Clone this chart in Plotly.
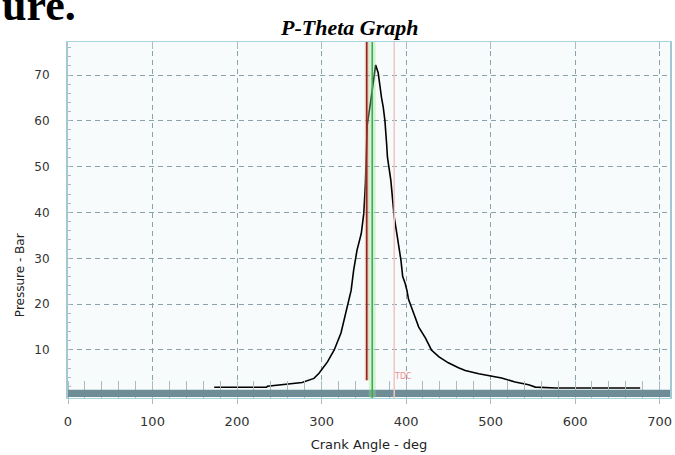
import plotly.graph_objects as go

# Cylinder pressure vs crank angle
crank_angle = [173, 235, 236, 258, 277, 291, 297, 307, 315, 323, 330, 335, 338, 342,
               347, 350, 352, 353, 354, 358, 361, 364, 367, 369, 371, 373, 375, 377,
               378, 382, 384, 386, 389, 392, 394, 396, 399, 401, 403, 409, 415, 423,
               430, 439, 450, 462, 470, 486, 501, 513, 529, 545, 553, 577, 677]
pressure = [1.85, 1.85, 2.1, 2.5, 2.9, 3.8, 4.9, 7.4, 10, 13.7, 19.4, 23, 27.4, 31.8,
            35.4, 39.8, 46.6, 53.6, 59, 64, 68, 72.2, 70.5, 67.3, 65, 63, 60, 55,
            52, 47, 43, 39, 35.5, 32, 29.5, 26, 24.5, 23, 21, 18, 15, 12.6,
            10, 8.5, 7.2, 6.1, 5.5, 4.8, 4.3, 3.9, 3.0, 2.4, 1.9, 1.7, 1.7]

# Reference angles (ignition, TDC, later marker)
ignition_angle = 353.5
tdc_angle = 360
marker_angle = 386

x_ticks = [0, 100, 200, 300, 400, 500, 600, 700]
y_ticks = [10, 20, 30, 40, 50, 60, 70]

X_MAX = 712.3
Y_MIN, Y_MAX = -0.48, 77.2

grid_color = "#8aa2aa"
axis_font = dict(family="DejaVu Sans", size=12, color="#333333")

fig = go.Figure()

fig.add_trace(go.Scatter(
    x=crank_angle, y=pressure, mode="lines",
    line=dict(color="black", width=1.6), showlegend=False, hoverinfo="skip",
))

# empty trace to host the top (inside-tick) axis
fig.add_trace(go.Scatter(x=[None], y=[None], xaxis="x2", showlegend=False))

shapes = [
    # thick baseline bar
    dict(type="rect", xref="x domain", x0=0, x1=1, yref="y", y0=-0.25, y1=1.3,
         fillcolor="#6f8d97", line=dict(width=0), layer="above"),
    # TDC line with soft halo
    dict(type="line", xref="x", x0=tdc_angle, x1=tdc_angle, yref="y domain", y0=0, y1=1,
         line=dict(color="rgba(150,225,150,0.35)", width=7)),
    dict(type="line", xref="x", x0=tdc_angle, x1=tdc_angle, yref="y domain", y0=0, y1=1,
         line=dict(color="#3cad4a", width=1.6)),
    # ignition line
    dict(type="line", xref="x", x0=ignition_angle, x1=ignition_angle, yref="y",
         y0=3.4, y1=Y_MAX, line=dict(color="rgba(230,150,140,0.5)", width=4)),
    dict(type="line", xref="x", x0=ignition_angle, x1=ignition_angle, yref="y",
         y0=3.4, y1=Y_MAX, line=dict(color="#8e2a20", width=1.6)),
    # later marker line
    dict(type="line", xref="x", x0=marker_angle, x1=marker_angle, yref="y domain",
         y0=0, y1=1, line=dict(color="#f4c4c4", width=1.5)),
]

annotations = [
    dict(text="ure.", xref="paper", yref="paper", x=-0.1126, y=1.028,
         xanchor="left", yanchor="bottom", showarrow=False,
         font=dict(family="Liberation Serif", size=44, color="black", weight="bold")),
    dict(text="Pressure - Bar", xref="paper", yref="paper", x=-0.0795, y=0.3455,
         xanchor="center", yanchor="middle", textangle=-90, showarrow=False,
         font=dict(family="DejaVu Sans", size=12, color="#222222")),
    dict(text="TDC", xref="x", yref="y", x=396, y=4.3, showarrow=False,
         font=dict(family="DejaVu Sans", size=8, color="#f09090")),
]

fig.update_layout(
    width=675, height=455,
    margin=dict(l=68, r=3, t=42, b=57),
    paper_bgcolor="white", plot_bgcolor="#f7fbfb",
    title=dict(text="<b><i>P-Theta Graph</i></b>", x=0.468, xref="paper",
               y=1 - 27 / 455, yanchor="middle", xanchor="center",
               font=dict(family="Liberation Serif", size=22, color="black")),
    xaxis=dict(
        range=[0, X_MAX], tickvals=x_ticks, ticks="outside", ticklen=5,
        tickcolor="#a8bcc2", showgrid=True, gridcolor=grid_color,
        griddash="5px,4px", gridwidth=1, zeroline=False,
        showline=True, linecolor="#a9d3de", linewidth=1, mirror=True,
        ticklabelstandoff=6,
        tickfont=dict(family="DejaVu Sans", size=13, color="#333333"),
        title=dict(text="Crank Angle - deg", standoff=12,
                   font=dict(family="DejaVu Sans", size=13, color="#222222")),
        minor=dict(ticks="inside", dtick=20, tick0=0, ticklen=17,
                   tickcolor="#a8bcc2", showgrid=False),
    ),
    xaxis2=dict(
        overlaying="x", side="top", matches="x", range=[0, X_MAX],
        tickvals=x_ticks[1:], ticks="inside", ticklen=7, tickcolor="#a8bcc2",
        showticklabels=False, showgrid=False, zeroline=False, showline=False,
    ),
    yaxis=dict(
        range=[Y_MIN, Y_MAX], tickvals=y_ticks, ticks="", showgrid=True,
        gridcolor=grid_color, griddash="5px,4px", gridwidth=1, zeroline=False,
        showline=True, linecolor="#a3c8d3", linewidth=2, mirror=True,
        ticklabelstandoff=14, tickfont=axis_font,
        minor=dict(ticks="inside", dtick=2, tick0=0, ticklen=3,
                   tickcolor="#a8bcc2", showgrid=False),
    ),
    shapes=shapes,
    annotations=annotations,
    showlegend=False,
)

fig.write_html("out.html")
